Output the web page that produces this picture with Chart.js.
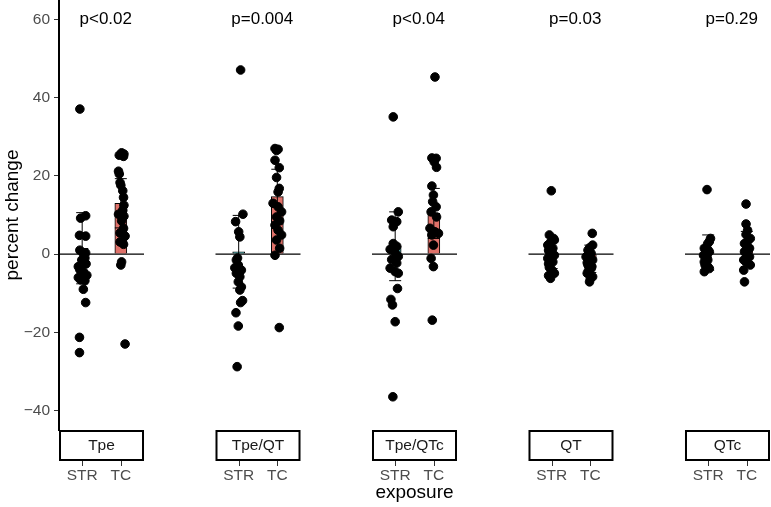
<!DOCTYPE html>
<html>
<head>
<meta charset="utf-8">
<script src="https://cdn.jsdelivr.net/npm/chart.js@4.4.1/dist/chart.umd.min.js"></script>
<style>
  html, body { margin: 0; padding: 0; background: #fff; }
  #wrap { width: 771px; height: 507px; position: relative; }
</style>
</head>
<body>
<div id="wrap"><canvas id="chart"></canvas></div>
<script>
// facets, groups and labels
const panels = ['Tpe', 'Tpe/QT', 'Tpe/QTc', 'QT', 'QTc'];
const groups = ['STR', 'TC'];
const pLabels = ['p<0.02', 'p=0.004', 'p<0.04', 'p=0.03', 'p=0.29'];
const yTicks = [-40, -20, 0, 20, 40, 60];

// bar heights (mean) and error bars (sd)
const strMean = [1.5, 0.6, 2.0, 0.3, 0.4];
const strSd = [9.1, 9.3, 8.8, 4.0, 4.5];
const tcMean = [13.0, 14.7, 10.4, -1.2, 1.3];
const tcSd = [6.3, 7.0, 6.4, 3.5, 4.5];

// individual values (percent change) + horizontal jitter
const tpeSTR = [37.1, 9.8, 9.2, 4.8, 4.6, 1.0, 0.3, 0.1, -1.0, -1.5, -2.5, -3.2, -4.0, -4.5, -5.4, -6.0, -6.6, -6.8, -9.0, -12.4, -21.3, -25.2];
const tpeSTRjit = [-0.06, 0.09, -0.04, -0.07, 0.09, -0.06, 0.09, 0.03, 0.07, -0.01, 0.10, -0.10, -0.06, 0.03, 0.12, -0.10, -0.04, 0.07, 0.03, 0.09, -0.07, -0.07];
const tpeTC = [25.9, 25.6, 25.3, 25.0, 21.2, 20.5, 18.3, 17.6, 16.2, 14.5, 12.5, 11.2, 10.2, 9.7, 8.5, 6.6, 5.4, 4.6, 3.1, 2.5, -2.0, -2.8, -23.0];
const tpeTCjit = [0.02, 0.08, -0.04, 0.07, -0.06, -0.04, -0.02, 0.0, 0.05, 0.07, 0.08, 0.05, -0.06, 0.08, 0.02, 0.07, -0.02, 0.11, -0.02, 0.07, 0.02, 0.0, 0.11];

const tpeqtSTR = [47.1, 10.2, 8.3, 5.7, 4.4, -1.0, -1.5, -2.8, -3.5, -4.1, -4.9, -5.8, -7.1, -8.4, -9.2, -11.9, -12.4, -15.0, -18.4, -28.8];
const tpeqtSTRjit = [0.05, 0.11, -0.08, 0.0, 0.03, -0.03, -0.06, -0.01, -0.10, 0.07, -0.06, 0.03, -0.01, 0.07, 0.03, 0.10, 0.05, -0.07, -0.01, -0.04];
const tpeqtTC = [27.0, 26.8, 26.5, 24.0, 22.1, 19.6, 16.8, 15.9, 13.0, 12.1, 10.8, 9.5, 8.5, 7.4, 6.1, 4.9, 3.6, 1.5, -0.3, -18.8];
const tpeqtTCjit = [-0.06, 0.02, -0.02, -0.06, 0.05, -0.02, 0.05, 0.02, -0.11, 0.02, 0.11, -0.02, 0.06, -0.06, 0.02, 0.11, -0.02, 0.06, -0.06, 0.05];

const tpeqtcSTR = [35.1, 10.8, 8.7, 8.3, 7.0, 2.7, 2.0, 1.2, 0.3, -0.6, -1.4, -2.3, -3.6, -4.5, -4.9, -8.8, -11.6, -13.0, -17.3, -36.5];
const tpeqtcSTRjit = [-0.05, 0.08, -0.09, 0.04, -0.05, -0.05, 0.04, -0.13, 0.0, 0.08, -0.09, 0.04, -0.13, 0.0, 0.08, 0.06, -0.11, -0.07, 0.0, -0.06];
const tpeqtcTC = [45.3, 24.6, 24.5, 23.6, 22.2, 17.4, 15.1, 13.4, 12.1, 10.8, 9.5, 6.6, 5.7, 5.3, 4.9, 2.3, -1.1, -3.2, -16.9];
const tpeqtcTCjit = [0.03, -0.05, 0.06, 0.01, 0.07, -0.05, -0.01, -0.03, 0.06, -0.07, 0.07, -0.10, 0.03, 0.12, -0.05, -0.01, -0.07, -0.01, -0.04];

const qtSTR = [16.2, 4.9, 4.0, 3.6, 3.0, 2.3, 1.5, 1.0, 0.6, 0.0, -0.3, -1.1, -1.5, -2.0, -2.5, -3.4, -4.0, -4.9, -5.5, -6.2];
const qtSTRjit = [-0.01, -0.06, 0.05, 0.07, -0.03, -0.10, 0.03, -0.08, -0.06, 0.0, 0.07, -0.10, -0.01, 0.03, -0.08, -0.06, 0.0, 0.07, -0.08, -0.03];
const qtTC = [5.3, 2.3, 1.6, 1.0, 0.2, -0.7, -1.0, -1.5, -2.2, -2.8, -3.2, -3.7, -4.3, -4.9, -5.8, -6.3, -7.1];
const qtTCjit = [0.05, 0.06, -0.02, -0.06, 0.02, -0.11, 0.0, 0.06, -0.08, -0.06, 0.04, 0.02, -0.05, -0.08, 0.06, 0.0, -0.02];

const qtcSTR = [16.5, 4.0, 3.2, 2.7, 1.5, 1.0, 0.6, -0.3, -0.8, -1.5, -2.0, -2.8, -3.2, -3.7, -4.5];
const qtcSTRjit = [-0.03, 0.06, 0.03, -0.01, -0.10, 0.0, 0.03, -0.12, -0.03, -0.01, -0.10, -0.08, -0.01, 0.03, -0.10];
const qtcTC = [12.8, 7.7, 6.1, 5.0, 4.0, 3.3, 2.7, 1.5, 1.0, 0.6, -0.2, -0.7, -1.5, -2.0, -2.8, -4.1, -7.1];
const qtcTCjit = [-0.02, -0.02, 0.02, -0.02, 0.09, 0.02, -0.06, 0.07, -0.02, -0.06, 0.02, 0.07, -0.08, -0.02, 0.09, -0.08, -0.06];

const strPoints = [tpeSTR, tpeqtSTR, tpeqtcSTR, qtSTR, qtcSTR];
const strJit = [tpeSTRjit, tpeqtSTRjit, tpeqtcSTRjit, qtSTRjit, qtcSTRjit];
const tcPoints = [tpeTC, tpeqtTC, tpeqtcTC, qtTC, qtcTC];
const tcJit = [tpeTCjit, tpeqtTCjit, tpeqtcTCjit, qtTCjit, qtcTCjit];

// each facet is 2.2 units wide (0.4 .. 2.6), facets repeat every 4.05 units
const step = 4.05;
const font = '"Liberation Sans", Arial, Helvetica, sans-serif';
const tealFill = '#55a3a5';
const redFill = '#df7169';

const points = [];
panels.forEach((p, i) => {
    strPoints[i].forEach((v, k) => points.push({ x: 1 + i * step + strJit[i][k], y: v }));
    tcPoints[i].forEach((v, k) => points.push({ x: 2 + i * step + tcJit[i][k], y: v }));
});

const bars = [];
const barColors = [];
const tickPos = [];
panels.forEach((p, i) => {
    bars.push({ x: 1 + i * step, y: strMean[i] });
    barColors.push(tealFill);
    bars.push({ x: 2 + i * step, y: tcMean[i] });
    barColors.push(redFill);
    tickPos.push(1 + i * step, 2 + i * step);
});

// no automatic padding around the axes: the plot area is fixed
function noPad(s) {
    s.paddingTop = 0;
    s.paddingBottom = 0;
    s.paddingLeft = 0;
    s.paddingRight = 0;
}

const facetPlugin = {
    id: 'facets',
    afterDatasetDraw(chart, args) {
        if (args.index !== 1) return; // after the bars, before the points
        const { ctx, scales: { x, y } } = chart;
        ctx.save();
        ctx.strokeStyle = '#000';
        panels.forEach((p, i) => {
            const off = i * step;
            // reference line at 0
            ctx.lineWidth = 1.2;
            ctx.beginPath();
            ctx.moveTo(x.getPixelForValue(0.4 + off), y.getPixelForValue(0));
            ctx.lineTo(x.getPixelForValue(2.6 + off), y.getPixelForValue(0));
            ctx.stroke();
            // mean +/- sd
            ctx.lineWidth = 1;
            [[1, strMean[i], strSd[i]], [2, tcMean[i], tcSd[i]]].forEach(([c, m, sd]) => {
                const px = x.getPixelForValue(c + off);
                const hi = y.getPixelForValue(m + sd);
                const lo = y.getPixelForValue(m - sd);
                ctx.beginPath();
                ctx.moveTo(px, hi); ctx.lineTo(px, lo);
                ctx.moveTo(px - 6, hi); ctx.lineTo(px + 6, hi);
                ctx.moveTo(px - 6, lo); ctx.lineTo(px + 6, lo);
                ctx.stroke();
            });
        });
        ctx.restore();
    },
    afterDraw(chart) {
        const { ctx, chartArea, scales: { x, y } } = chart;
        ctx.save();
        panels.forEach((p, i) => {
            const off = i * step;
            const left = x.getPixelForValue(0.4 + off) + 1;
            const right = x.getPixelForValue(2.6 + off) - 1;
            const top = chartArea.bottom + 1;
            // strip
            ctx.fillStyle = '#fff';
            ctx.fillRect(left, top, right - left, 29);
            ctx.strokeStyle = '#000';
            ctx.lineWidth = 2;
            ctx.strokeRect(left, top, right - left, 29);
            ctx.fillStyle = '#1a1a1a';
            ctx.font = '15.5px ' + font;
            ctx.textAlign = 'center';
            ctx.textBaseline = 'middle';
            ctx.fillText(p, (left + right) / 2, top + 15);
            // tick marks under the strip
            ctx.strokeStyle = '#333';
            ctx.lineWidth = 1;
            [1, 2].forEach(c => {
                const px = Math.round(x.getPixelForValue(c + off)) + 0.5;
                ctx.beginPath();
                ctx.moveTo(px, top + 30);
                ctx.lineTo(px, top + 35);
                ctx.stroke();
            });
            // p value
            ctx.fillStyle = '#000';
            ctx.font = '17px ' + font;
            ctx.fillText(pLabels[i], x.getPixelForValue(1.61 + off), y.getPixelForValue(60));
        });
        ctx.restore();
    }
};

const ctx = document.getElementById('chart').getContext('2d');
new Chart(ctx, {
    type: 'bar',
    data: {
        datasets: [{
            type: 'scatter',
            data: points,
            backgroundColor: '#000',
            borderColor: '#000',
            pointRadius: 4.3,
            pointHoverRadius: 4.3,
            clip: false,
            order: 1
        }, {
            type: 'bar',
            data: bars,
            backgroundColor: barColors,
            borderColor: '#000',
            borderWidth: 1,
            barThickness: 12,
            order: 2
        }]
    },
    options: {
        responsive: true,
        maintainAspectRatio: false,
        animation: false,
        layout: { autoPadding: false, padding: { left: 0, right: 1, top: 0, bottom: 0 } },
        plugins: {
            legend: { display: false },
            tooltip: { enabled: false }
        },
        scales: {
            x: {
                type: 'linear',
                min: 0.4,
                max: 4 * step + 2.6,
                offset: false,
                grid: { display: false, drawTicks: false },
                border: { display: false },
                afterBuildTicks: s => { s.ticks = tickPos.map(v => ({ value: v })); },
                afterFit: s => { s.height = 77; noPad(s); },
                ticks: {
                    autoSkip: false,
                    maxRotation: 0,
                    padding: 36,
                    color: '#4d4d4d',
                    font: { family: font, size: 15.5 },
                    callback: (v, idx) => groups[idx % 2]
                },
                title: {
                    display: true,
                    text: 'exposure',
                    color: '#000',
                    font: { family: font, size: 19 },
                    padding: { top: 0, bottom: 3 }
                }
            },
            y: {
                min: -45,
                max: 65,
                afterBuildTicks: s => { s.ticks = yTicks.map(v => ({ value: v })); },
                afterFit: s => { s.width = 59; noPad(s); },
                grid: { drawOnChartArea: false, tickLength: 5, color: '#333' },
                border: { display: true, color: '#000', width: 2 },
                ticks: {
                    padding: 4,
                    color: '#4d4d4d',
                    font: { family: font, size: 15.5 },
                    callback: v => String(v).replace('-', '\u2212')
                },
                title: {
                    display: true,
                    text: 'percent change',
                    color: '#000',
                    font: { family: font, size: 19 },
                    padding: { top: 1, bottom: 0 }
                }
            }
        }
    },
    plugins: [facetPlugin]
});
</script>
</body>
</html>
